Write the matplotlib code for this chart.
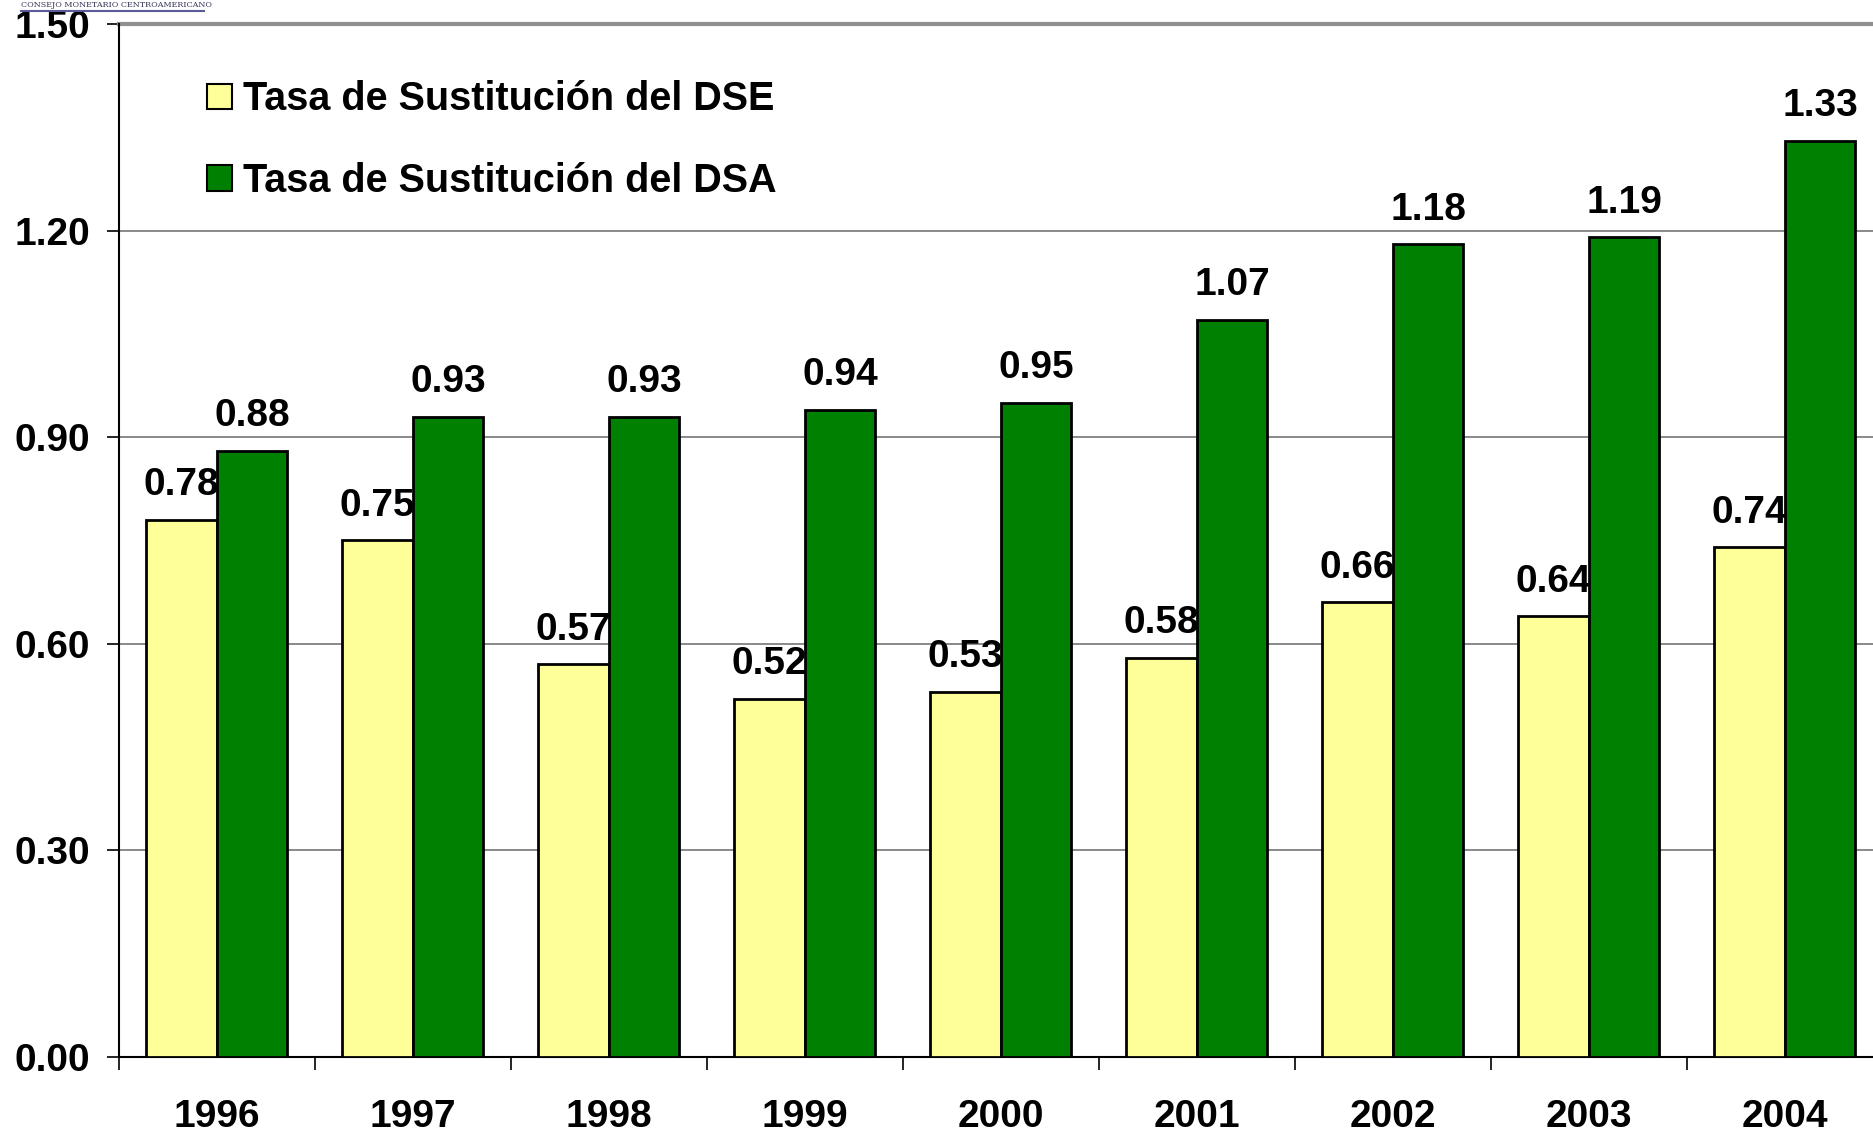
import matplotlib
matplotlib.use("Agg")
import matplotlib.pyplot as plt
import numpy as np

years = ["1996", "1997", "1998", "1999", "2000", "2001", "2002", "2003", "2004"]
dse = [0.78, 0.75, 0.57, 0.52, 0.53, 0.58, 0.66, 0.64, 0.74]
dsa = [0.88, 0.93, 0.93, 0.94, 0.95, 1.07, 1.18, 1.19, 1.33]
yticks = [0.0, 0.3, 0.6, 0.9, 1.2, 1.5]

plt.rcParams['font.family'] = ['Liberation Sans', 'DejaVu Sans']

fig = plt.figure(figsize=(18.73, 11.32), dpi=100)
ax = fig.add_axes([0.0635, 0.0663, 0.9418, 0.9125])

x = np.arange(len(years))
w = 0.36
ax.bar(x - w / 2, dse, w, color="#FFFF99", edgecolor="black", linewidth=2,
       label="Tasa de Sustitución del DSE", zorder=3)
ax.bar(x + w / 2, dsa, w, color="#008000", edgecolor="black", linewidth=2,
       label="Tasa de Sustitución del DSA", zorder=3)

# etiquetas de valor sobre cada barra
for xi, v in zip(x - w / 2, dse):
    ax.annotate(f"{v:.2f}", (xi, v), xytext=(0, 12), textcoords="offset points",
                ha="center", va="bottom", fontsize=28, fontweight="bold", zorder=4)
for xi, v in zip(x + w / 2, dsa):
    ax.annotate(f"{v:.2f}", (xi, v), xytext=(0, 12), textcoords="offset points",
                ha="center", va="bottom", fontsize=28, fontweight="bold", zorder=4)

ax.set_xlim(-0.5, len(years) - 0.5)
ax.set_ylim(0, 1.5)
ax.set_yticks(yticks)
ax.set_yticklabels([f"{t:.2f}" for t in yticks], fontsize=28, fontweight="bold")
ax.set_xticks(x)
ax.set_xticklabels(years, fontsize=28, fontweight="bold")
ax.set_xticks(np.arange(len(years) + 1) - 0.5, minor=True)
ax.tick_params(axis="x", which="major", length=0, pad=30)
ax.tick_params(axis="x", which="minor", length=9, width=1.2, direction="out")
ax.tick_params(axis="y", length=9, width=1.2, pad=12)

ax.yaxis.grid(True, color="#808080", linewidth=1.3, zorder=0)
ax.set_axisbelow(True)
for s in ["top", "right"]:
    ax.spines[s].set_visible(False)
ax.spines["left"].set_linewidth(1.5)
ax.spines["bottom"].set_linewidth(1.5)
ax.axhline(1.5, color="#909090", linewidth=3, clip_on=False, zorder=1)

leg = ax.legend(loc="upper left", bbox_to_anchor=(0.03, 0.98), frameon=False,
                prop={"size": 28.5, "weight": "bold"}, handlelength=0.62,
                handleheight=0.62, handletextpad=0.28, labelspacing=1.1)
for h in leg.legend_handles:
    h.set_linewidth(1.5)

fig.text(0.011, 0.999, "CONSEJO MONETARIO CENTROAMERICANO", fontsize=5.8,
         family="DejaVu Serif", color="#333355", ha="left", va="top")
fig.add_artist(plt.Line2D([0.011, 0.109], [0.9905, 0.9905], color="#5a5a9a",
                          linewidth=1.5, transform=fig.transFigure))

fig.savefig("out.png", dpi=100)
